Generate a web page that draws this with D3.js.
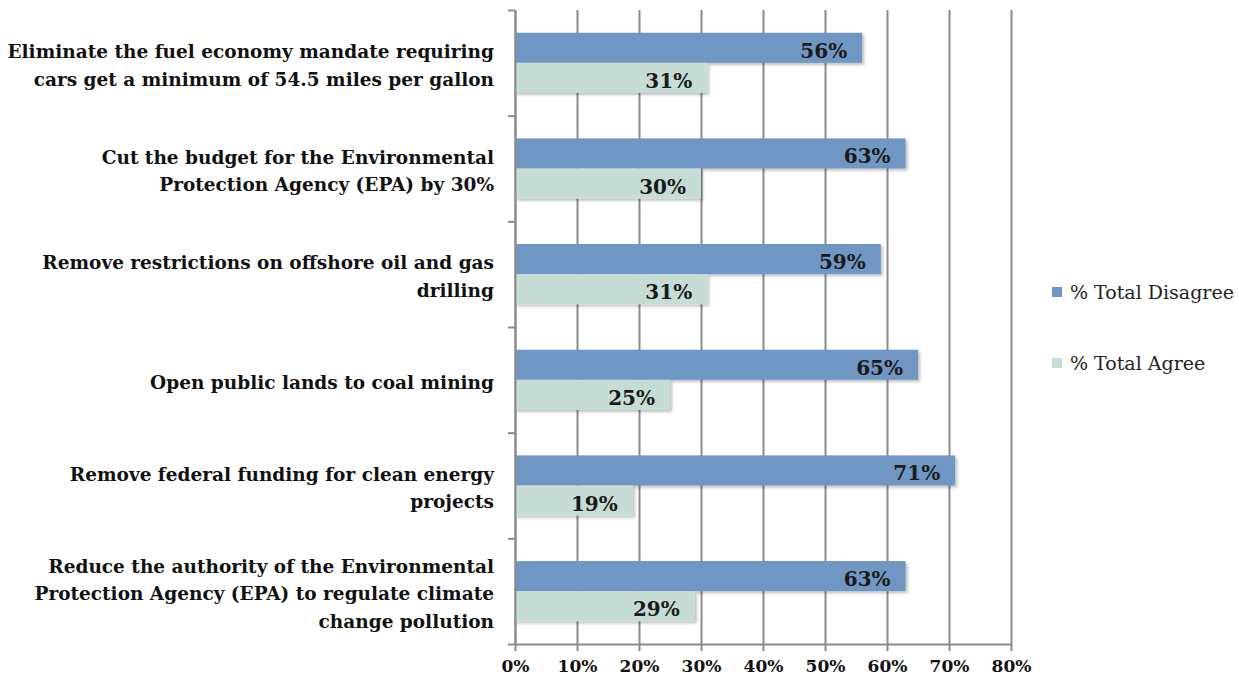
<!DOCTYPE html>
<html>
<head>
<meta charset="utf-8">
<script src="https://cdn.jsdelivr.net/npm/d3@7"></script>
<style>
  body { margin: 0; background: #fff; }
  svg { display: block; }
</style>
</head>
<body>
<svg id="chart"></svg>
<script>
const width = 1239;
const height = 686;

// categories, top to bottom ("\n" marks the line breaks of the label)
const categories = [
  "Eliminate the fuel economy mandate requiring\ncars get a minimum of 54.5 miles per gallon",
  "Cut the budget for the Environmental\nProtection Agency (EPA) by 30%",
  "Remove restrictions on offshore oil and gas\ndrilling",
  "Open public lands to coal mining",
  "Remove federal funding for clean energy\nprojects",
  "Reduce the authority of the Environmental\nProtection Agency (EPA) to regulate climate\nchange pollution"
];

const seriesNames = ["% Total Disagree", "% Total Agree"];
const disagreeValues = [56, 63, 59, 65, 71, 63];
const agreeValues = [31, 30, 31, 25, 19, 29];
const xTicks = [0, 10, 20, 30, 40, 50, 60, 70, 80];

const colors = { "% Total Disagree": "#6f97c3", "% Total Agree": "#c6ddd5" };
const serif = "DejaVu Serif, serif";

// one row per bar
const bars = [];
categories.forEach((c, i) => {
  bars.push({ category: c, series: seriesNames[0], value: disagreeValues[i] });
  bars.push({ category: c, series: seriesNames[1], value: agreeValues[i] });
});

const svg = d3.select("#chart").attr("width", width).attr("height", height);

const margin = { top: 10, right: 228, bottom: 42, left: 515 };
const innerWidth = width - margin.left - margin.right;
const innerHeight = height - margin.top - margin.bottom;

// drop shadow for the bars
const defs = svg.append("defs");
const shadow = defs.append("filter").attr("id", "shadow")
  .attr("x", "-5%").attr("y", "-20%").attr("width", "110%").attr("height", "150%");
shadow.append("feDropShadow")
  .attr("dx", 2).attr("dy", 2).attr("stdDeviation", 1.5)
  .attr("flood-color", "#000").attr("flood-opacity", 0.25);

const g = svg.append("g").attr("transform", `translate(${margin.left},${margin.top})`);

const xScale = d3.scaleLinear().domain([0, 80]).range([0, innerWidth]);

const yScale = d3.scaleBand()
  .domain(categories)
  .range([0, innerHeight])
  .paddingInner(0.43)
  .paddingOuter(0.215);

const ySub = d3.scaleBand().domain(seriesNames).range([0, yScale.bandwidth()]);
const barY = (d) => yScale(d.category) + ySub(d.series);

// vertical grid lines
const grid = g.append("g")
  .attr("transform", `translate(0,${innerHeight})`)
  .call(d3.axisBottom(xScale).tickValues(xTicks).tickSize(-innerHeight).tickFormat(""));
grid.select(".domain").remove();
grid.selectAll("text").remove();
grid.selectAll("line").attr("stroke", "#8c8c8c").attr("stroke-width", 2);

// bars
g.selectAll(".bar")
  .data(bars)
  .enter()
  .append("rect")
  .attr("class", "bar")
  .attr("x", 0)
  .attr("y", barY)
  .attr("width", (d) => xScale(d.value))
  .attr("height", ySub.bandwidth())
  .attr("fill", (d) => colors[d.series])
  .attr("filter", "url(#shadow)");

g.selectAll(".bar-label")
  .data(bars)
  .enter()
  .append("text")
  .attr("class", "bar-label")
  .attr("font-family", serif)
  .attr("font-weight", "bold")
  .attr("font-size", 20)
  .attr("fill", "#1a1a1a")
  .attr("x", (d) => xScale(d.value) - 15)
  .attr("y", (d) => barY(d) + ySub.bandwidth() / 2 + 10)
  .attr("text-anchor", "end")
  .text((d) => d.value + "%");

// y axis: line with ticks at the category boundaries
const yBound = d3.scaleLinear().domain([0, categories.length]).range([0, innerHeight]);
const yAxisG = g.append("g")
  .call(d3.axisLeft(yBound).ticks(categories.length).tickSize(7).tickSizeOuter(0).tickFormat(""));
yAxisG.selectAll("text").remove();
yAxisG.selectAll("line, path").attr("stroke", "#8c8c8c").attr("stroke-width", 2);

// x axis
const xAxisG = g.append("g")
  .attr("transform", `translate(0,${innerHeight})`)
  .call(d3.axisBottom(xScale).tickValues(xTicks).tickSize(7).tickSizeOuter(0)
    .tickFormat((d) => d + "%"))
  .attr("font-family", serif)
  .attr("font-size", 17)
  .attr("font-weight", "bold");
xAxisG.selectAll("line, path").attr("stroke", "#8c8c8c").attr("stroke-width", 2);
xAxisG.selectAll("text").attr("dy", null).attr("y", 28).attr("fill", "#111");

// category labels
const lineHeight = 27.5;
g.selectAll(".cat-label")
  .data(categories)
  .enter()
  .append("text")
  .attr("class", "cat-label")
  .attr("font-family", serif)
  .attr("font-weight", "bold")
  .attr("font-size", 18.5)
  .attr("fill", "#111")
  .attr("text-anchor", "end")
  .each(function (d) {
    const lines = d.split("\n");
    const cy = yScale(d) + yScale.bandwidth() / 2 + 9 - (lines.length - 1) * lineHeight / 2;
    d3.select(this).selectAll("tspan")
      .data(lines)
      .enter()
      .append("tspan")
      .attr("x", -21)
      .attr("y", (l, i) => cy + i * lineHeight)
      .text((l) => l);
  });

// legend
const legendY = d3.scalePoint().domain(seriesNames).range([287, 358]);
svg.selectAll(".legend-key")
  .data(seriesNames)
  .enter()
  .append("rect")
  .attr("class", "legend-key")
  .attr("x", 1052)
  .attr("y", (d) => legendY(d))
  .attr("width", 10).attr("height", 10)
  .attr("fill", (d) => colors[d]);
svg.selectAll(".legend-label")
  .data(seriesNames)
  .enter()
  .append("text")
  .attr("class", "legend-label")
  .attr("font-family", serif)
  .attr("font-size", 19)
  .attr("fill", "#222")
  .attr("x", 1070)
  .attr("y", (d) => legendY(d) + 12)
  .text((d) => d);
</script>
</body>
</html>
